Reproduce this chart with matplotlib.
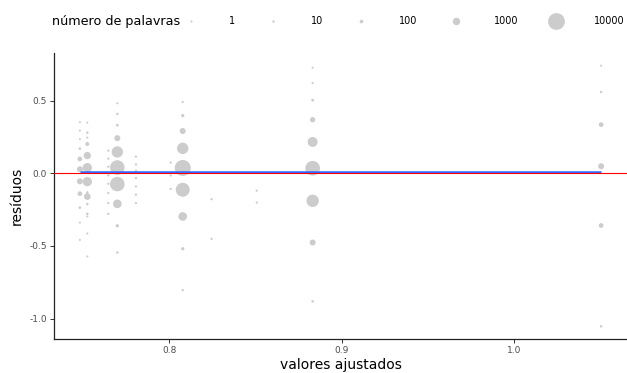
import numpy as np
import matplotlib
matplotlib.use('Agg')
import matplotlib.pyplot as plt
from matplotlib.lines import Line2D

# valores ajustados de cada grupo (uma coluna de pontos por valor)
AJUSTADOS = [0.7482, 0.7525, 0.7647, 0.7699, 0.7807, 0.8008,
             0.8078, 0.8245, 0.8507, 0.8831, 1.0503]
# resíduos por grupo
RESIDUOS = [
    [0.351, 0.293, 0.234, 0.169, 0.098, 0.027, -0.056, -0.141, -0.237, -0.340, -0.459],
    [0.348, 0.279, 0.245, 0.201, 0.121, 0.038, -0.058, -0.133, -0.161, -0.213,
     -0.280, -0.298, -0.415, -0.573],
    [0.155, 0.100, 0.045, -0.015, -0.073, -0.137, -0.206, -0.280],
    [0.481, 0.408, 0.330, 0.241, 0.146, 0.039, -0.075, -0.211, -0.362, -0.546],
    [0.114, 0.060, 0.017, -0.034, -0.091, -0.148, -0.206],
    [0.073, -0.016, -0.108],
    [0.490, 0.396, 0.290, 0.171, 0.036, -0.114, -0.298, -0.520, -0.805],
    [-0.179, -0.452],
    [-0.120, -0.202],
    [0.726, 0.620, 0.502, 0.368, 0.215, 0.034, -0.190, -0.477, -0.882],
    [0.740, 0.559, 0.334, 0.048, -0.360, -1.054],
]
# número de palavras de cada ponto
PALAVRAS = [
    [1, 1, 1, 22, 240, 520, 520, 240, 22, 1, 1],
    [1, 14, 2, 135, 940, 1900, 1900, 14, 720, 14, 14, 1, 1, 1],
    [6, 6, 6, 6, 6, 6, 6, 6],
    [2, 14, 28, 520, 3300, 6700, 6700, 1550, 63, 14],
    [6, 6, 6, 6, 6, 6, 6],
    [6, 6, 6],
    [3, 63, 520, 3400, 8800, 6000, 1550, 63, 6],
    [6, 6],
    [4, 4],
    [1, 3, 28, 350, 2330, 6900, 4300, 520, 14],
    [1, 14, 240, 520, 240, 14],
]
SUAVE_Y = [0.005, 0.005]          # linha de tendência (loess ~ plana)
LEG_VALORES = [1, 10, 100, 1000, 10000]
X_TICKS = [0.8, 0.9, 1.0]
Y_TICKS = [-1.0, -0.5, 0.0, 0.5]

DPI = 100


def tamanho(v):
    # diâmetro em px -> área do marcador em pt^2
    d = np.sqrt(4 + 0.334 * np.asarray(v, float) ** 0.73)
    return (d * 72 / DPI) ** 2


x = np.concatenate([[a] * len(r) for a, r in zip(AJUSTADOS, RESIDUOS)])
y = np.concatenate(RESIDUOS)
w = np.concatenate(PALAVRAS)

fig = plt.figure(figsize=(6.27, 3.73), dpi=DPI)
ax = fig.add_axes([54 / 627, 34 / 373, 573 / 627, 286 / 373])

ax.scatter(x, y, s=tamanho(w), c='#cccccc', linewidths=0, zorder=2)
ax.plot([x.min(), x.max()], SUAVE_Y, color='#3366FF', lw=1.8, zorder=3,
        solid_capstyle='butt')
ax.axhline(0, color='red', lw=0.8, zorder=4)

ax.set_xlim(0.7332, 1.0653)
ax.set_ylim(-1.141, 0.827)
ax.set_xticks(X_TICKS)
ax.set_yticks(Y_TICKS)
ax.set_xticklabels([f'{t:.1f}' for t in X_TICKS])
ax.set_yticklabels([f'{t:.1f}' for t in Y_TICKS])
ax.tick_params(length=3, width=0.7, color='#333333', labelsize=6.5,
               labelcolor='#4d4d4d', pad=2)
for s in ['top', 'right']:
    ax.spines[s].set_visible(False)
for s in ['left', 'bottom']:
    ax.spines[s].set_linewidth(0.9)
    ax.spines[s].set_color('#222222')
ax.set_xlabel('valores ajustados', fontsize=10, labelpad=2)
ax.set_ylabel('resíduos', fontsize=10, labelpad=4)

# legenda horizontal no topo
fig.text(52 / 627, 1 - 21 / 373, 'número de palavras', fontsize=9.2,
         va='center', ha='left')
handles = [Line2D([], [], ls='none', marker='o', color='#cccccc',
                  markeredgewidth=0, markersize=np.sqrt(tamanho(v)))
           for v in LEG_VALORES]
fig.legend(handles, [str(v) for v in LEG_VALORES], ncol=5, frameon=False,
           loc='center left', bbox_to_anchor=(168 / 627, 1 - 21 / 373),
           fontsize=7, handlelength=4, handletextpad=1.9, columnspacing=1.9,
           borderpad=0.4, borderaxespad=0)

fig.savefig('out.png', dpi=DPI)
